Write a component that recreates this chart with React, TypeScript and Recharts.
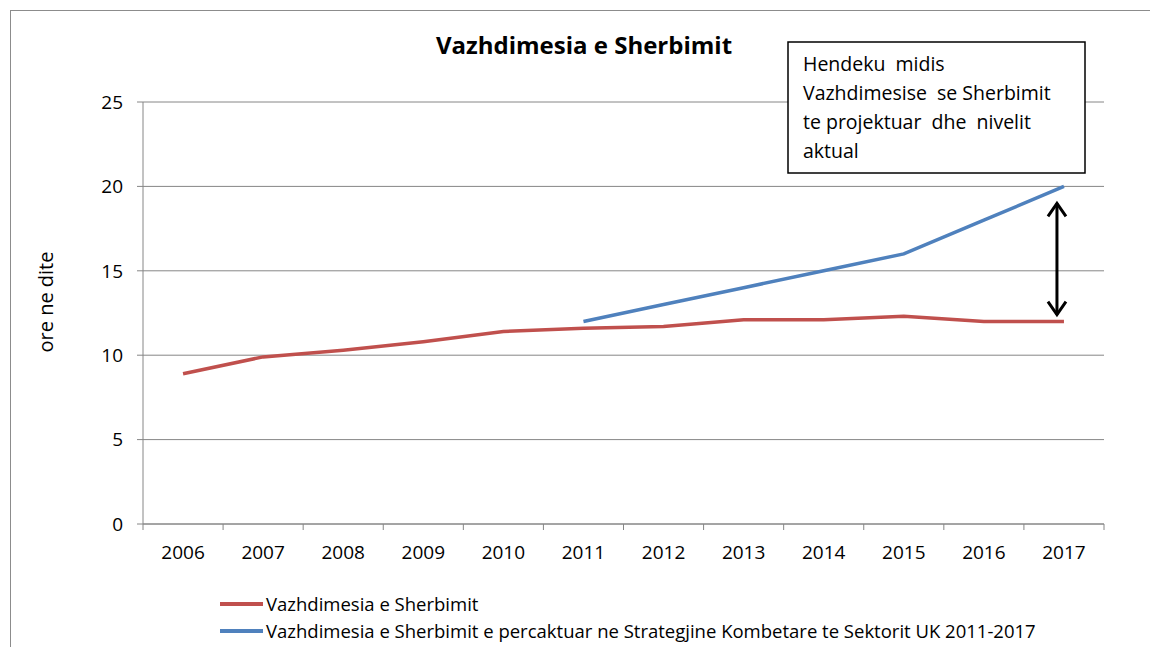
import React from "react";
import {
  CartesianGrid,
  Legend,
  Line,
  LineChart,
  ReferenceLine,
  XAxis,
  YAxis,
} from "recharts";

const years = [
  "2006", "2007", "2008", "2009", "2010", "2011",
  "2012", "2013", "2014", "2015", "2016", "2017",
];
const actualHours = [8.9, 9.9, 10.3, 10.8, 11.4, 11.6, 11.7, 12.1, 12.1, 12.3, 12.0, 12.0];
const plannedHours = [null, null, null, null, null, 12, 13, 14, 15, 16, 18, 20];
const yTicks = [0, 5, 10, 15, 20, 25];

const actualName = "Vazhdimesia e Sherbimit";
const plannedName =
  "Vazhdimesia e Sherbimit e percaktuar ne Strategjine Kombetare te Sektorit UK 2011-2017";
const chartTitle = "Vazhdimesia e Sherbimit";
const yAxisTitle = "ore ne dite";
const noteLines = [
  "Hendeku  midis",
  "Vazhdimesise  se Sherbimit",
  "te projektuar  dhe  nivelit",
  "aktual",
];
// the gap arrow between planned and actual in the last year
const gapYear = "2017";
const gapTop = 19.0;
const gapBottom = 12.4;

const data = years.map((year, i) => ({
  year,
  actual: actualHours[i],
  planned: plannedHours[i],
}));

const W = 1150;
const H = 647;
const margin = { top: 102, right: 46, bottom: 83, left: 0 };
const yAxisWidth = 143;
const plotWidth = W - margin.left - margin.right - yAxisWidth;
const step = plotWidth / years.length;

const font = "'Open Sans', Lato, sans-serif";
const gridColor = "#868686";
const red = "#C0504D";
const blue = "#4F81BD";

const YearTick = (props: any) => {
  const { x, y, payload, index } = props;
  return (
    <g>
      <line x1={x - step / 2} x2={x - step / 2} y1={y} y2={y + 6} stroke={gridColor} />
      {index === years.length - 1 && (
        <line x1={x + step / 2} x2={x + step / 2} y1={y} y2={y + 6} stroke={gridColor} />
      )}
      <text x={x} y={y} dy={35} textAnchor="middle" fill="#000" fontSize={19} fontFamily={font}>
        {payload.value}
      </text>
    </g>
  );
};

const YTitle = (props: any) => {
  const vb = props.viewBox;
  const cx = vb.x + 53;
  const cy = vb.y + vb.height / 2 - 11;
  return (
    <text
      x={cx}
      y={cy}
      transform={`rotate(-90 ${cx} ${cy})`}
      textAnchor="middle"
      fill="#000"
      fontSize={20}
      fontFamily={font}
    >
      {yAxisTitle}
    </text>
  );
};

const LegendRows = (props: any) => (
  <div style={{ display: "flex", flexDirection: "column" }}>
    {(props.payload || []).map((entry: any) => (
      <div
        key={entry.value}
        style={{ display: "flex", alignItems: "center", height: 27, whiteSpace: "nowrap" }}
      >
        <svg width={46} height={6} style={{ display: "block" }}>
          <line x1={0} x2={43} y1={3} y2={3} stroke={entry.color} strokeWidth={4} />
        </svg>
        <span style={{ fontFamily: font, fontSize: 18.5, color: "#000" }}>{entry.value}</span>
      </div>
    ))}
  </div>
);

const GapArrow = (props: any) => {
  const { x1, y1, x2, y2 } = props;
  return (
    <line
      x1={x1 - 7}
      x2={x2 - 7}
      y1={y1}
      y2={y2}
      stroke="#000"
      strokeWidth={3}
      markerStart="url(#gapHead)"
      markerEnd="url(#gapHead)"
    />
  );
};

export default function App() {
  return (
    <div
      style={{
        position: "fixed",
        left: 0,
        top: 0,
        width: W,
        height: H,
        overflow: "hidden",
        background: "#fff",
        fontFamily: font,
      }}
    >
      <div
        style={{
          position: "absolute",
          left: 10,
          top: 10,
          width: W + 40,
          height: H + 40,
          border: "1px solid #8c8c8c",
        }}
      />
      <svg width={0} height={0} style={{ position: "absolute" }}>
        <defs>
          <marker
            id="gapHead"
            markerUnits="userSpaceOnUse"
            markerWidth={24}
            markerHeight={24}
            refX={13}
            refY={10}
            orient="auto-start-reverse"
            overflow="visible"
          >
            <path d="M0,1 L13,10 L0,19" fill="none" stroke="#000" strokeWidth={3} />
          </marker>
        </defs>
      </svg>
      <div style={{ position: "absolute", left: 0, top: 0 }}>
        <LineChart width={W} height={H} data={data} margin={margin}>
          <CartesianGrid vertical={false} stroke={gridColor} />
          <XAxis
            dataKey="year"
            height={40}
            interval={0}
            padding={{ left: step / 2, right: step / 2 }}
            axisLine={{ stroke: gridColor }}
            tickLine={false}
            tickSize={0}
            tickMargin={0}
            tick={<YearTick />}
          />
          <YAxis
            width={yAxisWidth}
            domain={[0, 25]}
            ticks={yTicks}
            interval={0}
            axisLine={{ stroke: gridColor }}
            tickLine={{ stroke: gridColor }}
            tickSize={6}
            tickMargin={14}
            tick={{ fill: "#000", fontSize: 19, fontFamily: font }}
            label={<YTitle />}
          />
          <Legend
            layout="horizontal"
            align="center"
            verticalAlign="middle"
            wrapperStyle={{ left: 220, top: 590, width: "auto", height: "auto" }}
            content={<LegendRows />}
          />
          <Line
            dataKey="actual"
            name={actualName}
            stroke={red}
            strokeWidth={3.5}
            dot={false}
            activeDot={false}
            isAnimationActive={false}
          />
          <Line
            dataKey="planned"
            name={plannedName}
            stroke={blue}
            strokeWidth={3.5}
            dot={false}
            activeDot={false}
            isAnimationActive={false}
          />
          <ReferenceLine
            segment={[
              { x: gapYear, y: gapTop },
              { x: gapYear, y: gapBottom },
            ]}
            shape={<GapArrow />}
          />
        </LineChart>
      </div>
      <svg
        width={W}
        height={H}
        style={{ position: "absolute", left: 0, top: 0, pointerEvents: "none" }}
      >
        <text
          x={584}
          y={54}
          textAnchor="middle"
          fontFamily={font}
          fontWeight="bold"
          fontSize={24}
          fill="#000"
        >
          {chartTitle}
        </text>
        <rect x={788} y={42} width={297} height={131} fill="#fff" stroke="#000" strokeWidth={1.5} />
        {noteLines.map((line, i) => (
          <text
            key={line}
            x={803}
            y={71 + i * 29}
            fontFamily={font}
            fontSize={19.5}
            fill="#000"
            style={{ whiteSpace: "pre" }}
          >
            {line}
          </text>
        ))}
      </svg>
    </div>
  );
}
